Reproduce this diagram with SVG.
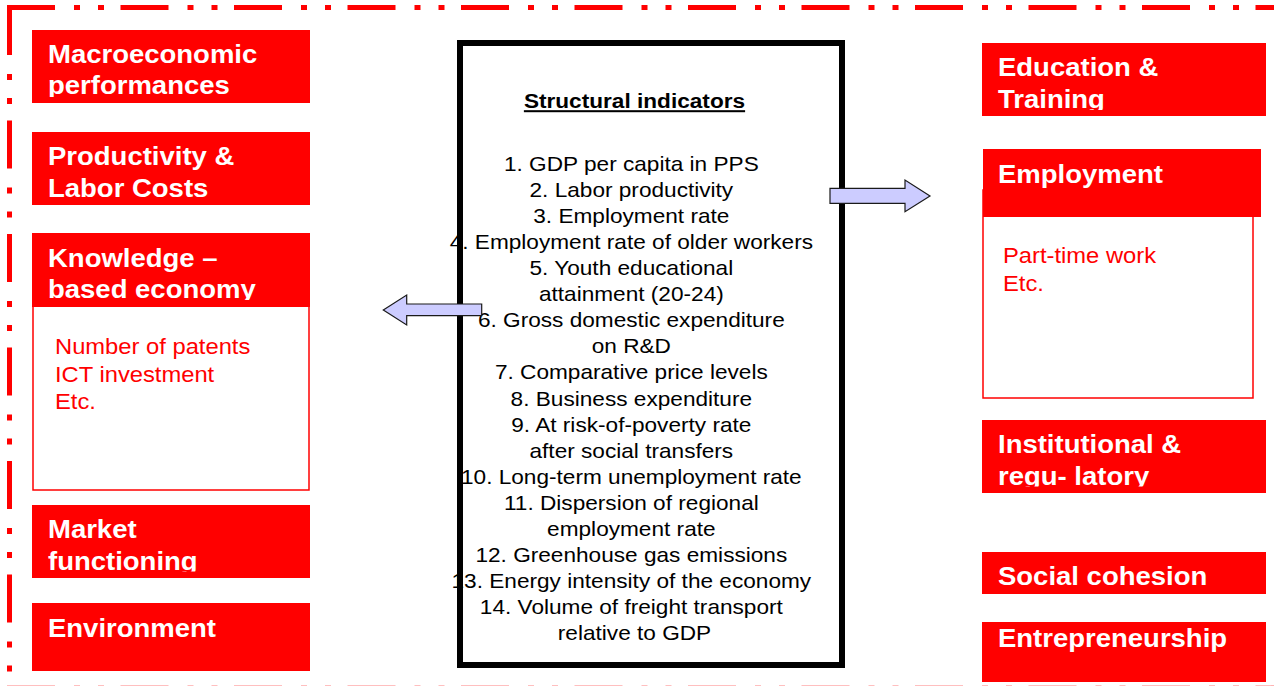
<svg xmlns="http://www.w3.org/2000/svg" width="1274" height="686" viewBox="0 0 1274 686">
  <style>
    .frame { fill: none; stroke: #ff0000; stroke-width: 5; stroke-dasharray: 48 19 6 18 6 16.5; }
    .head { fill: #ff0000; }
    .panel { fill: #ffffff; stroke: #ff0000; stroke-width: 1.5; }
    .wide { transform-box: fill-box; transform: scaleX(1.1); }
    .wider { transform-box: fill-box; transform: scaleX(1.115); }
    .left { transform-origin: left center; }
    .mid { transform-origin: center center; }
    .htxt { font-family: "Liberation Sans", Arial, sans-serif; font-weight: bold; font-size: 25px; fill: #ffffff; }
    .rtxt { font-family: "Liberation Sans", Arial, sans-serif; font-size: 21.6px; fill: #ff0000; }
    .list { font-family: "Liberation Sans", Arial, sans-serif; font-size: 20.3px; fill: #000000; text-anchor: middle; }
    .title { font-weight: bold; text-decoration: underline; }
    .arrow { fill: #ccccff; stroke: #1a1a1a; stroke-width: 1.2; stroke-linejoin: miter; }
  </style>
  <defs>
    <clipPath id="clipMacro" clipPathUnits="userSpaceOnUse"><rect x="32" y="30" width="278" height="67"/></clipPath>
    <clipPath id="clipKnow" clipPathUnits="userSpaceOnUse"><rect x="32" y="233" width="278" height="67"/></clipPath>
    <clipPath id="clipMarket" clipPathUnits="userSpaceOnUse"><rect x="32" y="505" width="278" height="66.5"/></clipPath>
    <clipPath id="clipEdu" clipPathUnits="userSpaceOnUse"><rect x="982" y="43" width="284" height="67"/></clipPath>
    <clipPath id="clipInst" clipPathUnits="userSpaceOnUse"><rect x="982" y="420" width="284" height="66.5"/></clipPath>
  </defs>

  <rect width="1274" height="686" fill="#ffffff"/>

  <!-- dash-dot-dot frame -->
  <g id="frame">
    <path class="frame" d="M7,7.5 H1280"/>
    <path class="frame" d="M9.5,7 V700"/>
    <path class="frame" d="M7,688.2 H1280"/>
  </g>

  <!-- left column -->
  <g id="macro">
    <rect class="head" x="32" y="30" width="278" height="73"/>
    <g clip-path="url(#clipMacro)">
      <text class="htxt wide left" x="48" y="63.3">Macroeconomic</text>
      <text class="htxt wide left" x="48" y="94.5">performances</text>
    </g>
  </g>
  <g id="productivity">
    <rect class="head" x="32" y="132" width="278" height="73"/>
    <text class="htxt wide left" x="48" y="165.5">Productivity &amp;</text>
    <text class="htxt wide left" x="48" y="196.7">Labor Costs</text>
  </g>
  <g id="knowledge">
    <rect class="panel" x="33" y="300" width="276" height="190"/>
    <rect class="head" x="32" y="233" width="278" height="74"/>
    <g clip-path="url(#clipKnow)">
      <text class="htxt wide left" x="48" y="266.7">Knowledge –</text>
      <text class="htxt wide left" x="48" y="298.5">based economy</text>
    </g>
    <text class="rtxt wide left" x="55" y="354">Number of patents</text>
    <text class="rtxt wide left" x="55" y="382">ICT investment</text>
    <text class="rtxt wide left" x="55" y="409.5">Etc.</text>
  </g>
  <g id="market">
    <rect class="head" x="32" y="505" width="278" height="73"/>
    <g clip-path="url(#clipMarket)">
      <text class="htxt wide left" x="48" y="538.5">Market</text>
      <text class="htxt wide left" x="48" y="569.7">functioning</text>
    </g>
  </g>
  <g id="environment">
    <rect class="head" x="32" y="603" width="278" height="68"/>
    <text class="htxt wide left" x="48" y="637.5">Environment</text>
  </g>

  <!-- central list -->
  <g id="structural">
    <rect x="460" y="43" width="382" height="622" fill="#ffffff"/>
    <text class="list title wider mid" x="634.5" y="108.3">Structural indicators</text>
    <text class="list wider mid" x="634.5" y="170.7">
      <tspan x="634.5">1. GDP per capita in PPS</tspan>
      <tspan x="634.5" dy="26.1">2. Labor productivity</tspan>
      <tspan x="634.5" dy="26.1">3. Employment rate</tspan>
      <tspan x="634.5" dy="26.1">4. Employment rate of older workers</tspan>
      <tspan x="634.5" dy="26.1">5. Youth educational</tspan>
      <tspan x="634.5" dy="26.1">attainment (20-24)</tspan>
      <tspan x="634.5" dy="26.1">6. Gross domestic expenditure</tspan>
      <tspan x="634.5" dy="26.1">on R&amp;D</tspan>
      <tspan x="634.5" dy="26.1">7. Comparative price levels</tspan>
      <tspan x="634.5" dy="26.1">8. Business expenditure</tspan>
      <tspan x="634.5" dy="26.1">9. At risk-of-poverty rate</tspan>
      <tspan x="634.5" dy="26.1">after social transfers</tspan>
      <tspan x="634.5" dy="26.1">10. Long-term unemployment rate</tspan>
      <tspan x="634.5" dy="26.1">11. Dispersion of regional</tspan>
      <tspan x="634.5" dy="26.1">employment rate</tspan>
      <tspan x="634.5" dy="26.1">12. Greenhouse gas emissions</tspan>
      <tspan x="634.5" dy="26.1">13. Energy intensity of the economy</tspan>
      <tspan x="634.5" dy="26.1">14. Volume of freight transport</tspan>
      <tspan x="634.5" dy="26.1">relative to GDP</tspan>
    </text>
    <rect x="460" y="43" width="382" height="622" fill="none" stroke="#000000" stroke-width="6"/>
  </g>

  <!-- right column -->
  <g id="education">
    <rect class="head" x="982" y="43" width="284" height="73"/>
    <g clip-path="url(#clipEdu)">
      <text class="htxt wide left" x="998" y="76">Education &amp;</text>
      <text class="htxt wide left" x="998" y="108.3">Training</text>
    </g>
  </g>
  <g id="employment">
    <rect class="panel" x="983" y="190" width="270" height="208"/>
    <rect class="head" x="983" y="149" width="278" height="68"/>
    <text class="htxt wide left" x="998" y="183">Employment</text>
    <text class="rtxt wide left" x="1003" y="262.7">Part-time work</text>
    <text class="rtxt wide left" x="1003" y="290.7">Etc.</text>
  </g>
  <g id="institutional">
    <rect class="head" x="982" y="420" width="284" height="73"/>
    <g clip-path="url(#clipInst)">
      <text class="htxt wide left" x="998" y="453.3">Institutional &amp;</text>
      <text class="htxt wide left" x="998" y="485">regu- latory</text>
    </g>
  </g>
  <g id="cohesion">
    <rect class="head" x="982" y="552" width="284" height="42"/>
    <text class="htxt wide left" x="998" y="585">Social cohesion</text>
  </g>
  <g id="entrepreneurship">
    <rect class="head" x="982" y="622" width="284" height="60"/>
    <text class="htxt wide left" x="998" y="647.3">Entrepreneurship</text>
  </g>

  <!-- block arrows -->
  <g id="connectors">
    <path class="arrow" d="M383.3,310 L406.7,295 L406.7,304 L481.7,304 L481.7,315.7 L406.7,315.7 L406.7,325 Z"/>
    <path class="arrow" d="M830,188.3 L905,188.3 L905,180 L930,196 L905,211.7 L905,203.3 L830,203.3 Z"/>
  </g>
</svg>
